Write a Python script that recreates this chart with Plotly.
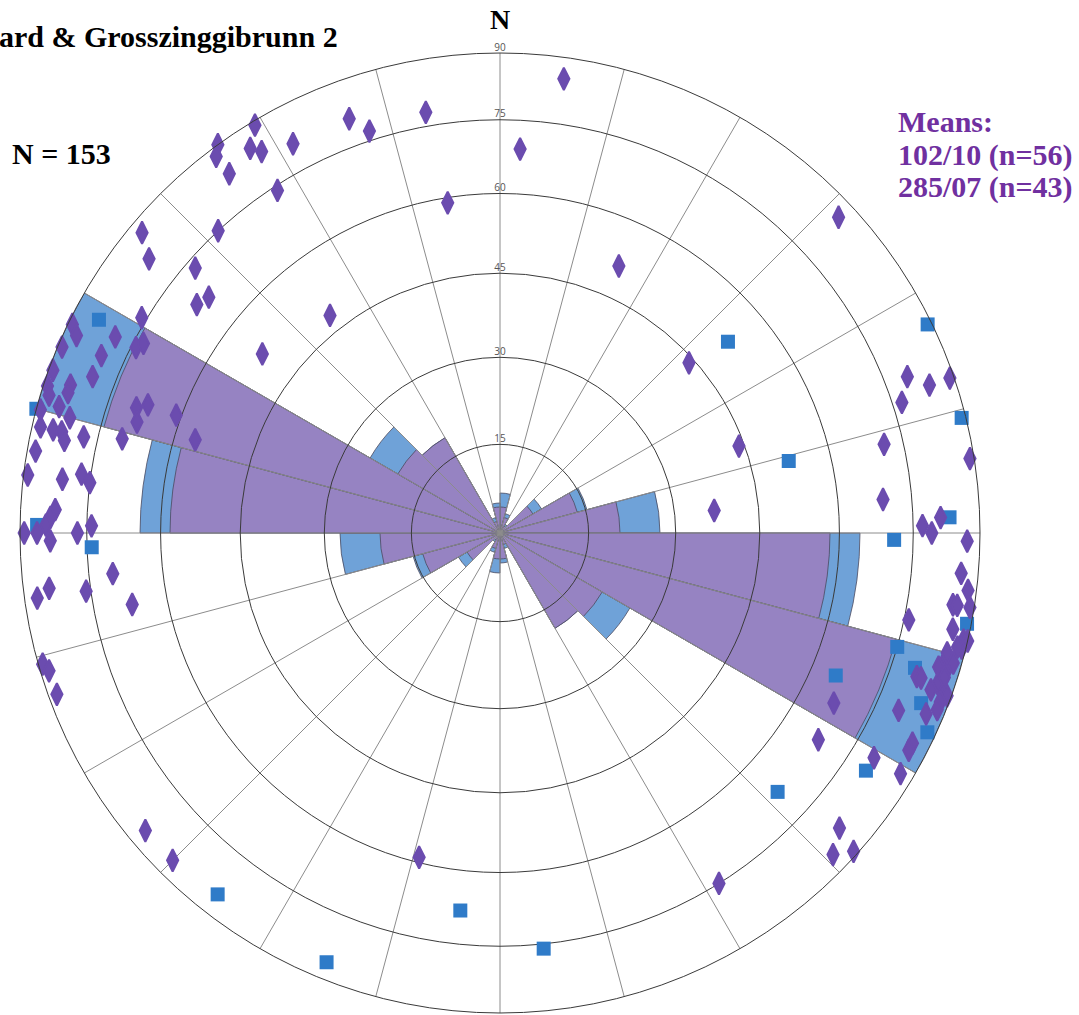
import math
import plotly.graph_objects as go

W, H = 1079, 1015
CX, CY, R = 500, 533, 480   # plot centre / radius in pixels (layout only)

# ---------------- rose diagram (15 degree bins) ----------------
rose_bins = [7.5, 22.5, 37.5, 52.5, 67.5, 82.5, 97.5, 112.5, 127.5, 142.5, 157.5, 172.5,
             187.5, 202.5, 217.5, 232.5, 247.5, 262.5, 277.5, 292.5, 307.5, 322.5, 337.5, 352.5]
rose_all = [2.0, 1.0, 0.5, 2.4, 4.5, 8.0, 18.0, 24.0, 7.5, 5.5, 0.8, 1.5,
            2.0, 1.0, 0.5, 2.4, 4.5, 8.0, 18.0, 24.0, 7.5, 5.5, 0.8, 1.5]
rose_diamond = [1.3, 0.8, 0.4, 1.9, 4.0, 6.0, 16.5, 20.5, 5.9, 5.5, 0.6, 1.3,
                1.3, 0.8, 0.4, 1.9, 4.0, 6.0, 16.5, 20.5, 5.9, 5.5, 0.6, 1.3]
rose_max = 24

# ---------------- lineations (trend / plunge) ----------------
diamond_trend = [8, 3, 350, 340, 342, 351, 24, 329, 324, 323, 323, 327, 328, 332, 327, 310, 308, 317,
                 311, 307, 309, 307, 322,
                 301, 296, 295, 293, 297, 294, 297, 298, 291, 290, 289, 288, 288, 287, 286, 285, 289,
                 290, 287, 290, 285, 283, 283, 283, 282, 283, 284, 287, 280, 277, 277, 278, 277, 273,
                 272, 271, 270, 270, 269, 270, 271, 264, 262, 263, 262, 259, 254, 253, 250, 230, 225, 194,
                 47, 48, 70, 84, 77, 85, 72, 69, 71, 71, 81, 89, 90, 88, 91, 95, 97, 99, 99, 99, 102,
                 102, 103, 104, 104, 106, 107, 107, 106, 109, 109, 109, 110, 110, 110, 111, 112, 114,
                 113, 117, 117, 118, 123, 121, 121, 131, 134, 132, 148, 103, 108, 105]
diamond_plunge = [5, 21, 12, 9, 13, 31, 39, 1, 0, 2, 7, 5, 7, 9, 16, 3, 8, 15,
                  17, 22, 23, 38, 42,
                  14, 1, 3, 1, 11, 10, 16, 17, 10, 1, 6, 6, 1, 2, 5, 1, 21,
                  23, 22, 29, 8, 2, 5, 7, 8, 12, 20, 34, 2, 1, 9, 13, 15, 8,
                  7, 6, 1, 4, 7, 13, 16, 20, 3, 6, 14, 23, 1, 2, 2, 4, 4, 31,
                  4, 46, 46, 53, 19, 21, 13, 10, 6, 1, 1, 13, 11, 9, 3, 4, 2, 5, 4, 1, 14,
                  4, 1, 1, 2, 4, 5, 3, 2, 9, 8, 4, 5, 2, 1, 2, 2, 10,
                  4, 23, 4, 4, 22, 10, 3, 7, 4, 1, 15, 0, 3, 4]

square_trend = [298, 285, 271, 268, 218, 202, 186, 174, 133, 123, 115, 112, 108, 106, 101, 113,
                91, 88, 76, 64, 76, 50]
square_plunge = [6, 0, 4, 16, 5, 4, 22, 14, 22, 10, 2, 6, 10, 15, 1, 25,
                 19, 7, 1, 1, 38, 38]

ring_labels = [15, 30, 45, 60, 75, 90]


def equal_area(angle_from_centre):
    """Schmidt (equal-area) radius, normalised so that 90 degrees -> 1."""
    return math.sqrt(2) * math.sin(math.radians(angle_from_centre) / 2)


def plunge_to_r(p):
    return equal_area(90 - p)


ring_r = [equal_area(v) for v in ring_labels]

dom_x = [(CX - R) / W, (CX + R) / W]
dom_y = [(H - CY - R) / H, (H - CY + R) / H]

fig = go.Figure()

fig.add_trace(go.Barpolar(
    r=rose_all, theta=rose_bins, width=[15] * len(rose_bins), subplot="polar",
    marker=dict(color="#6FA2D8", line=dict(color="#4a4a60", width=0.8)),
    hoverinfo="skip"))
fig.add_trace(go.Barpolar(
    r=rose_diamond, theta=rose_bins, width=[15] * len(rose_bins), subplot="polar",
    marker=dict(color="#9683C2", line=dict(color="#4a4a60", width=0.8)),
    hoverinfo="skip"))

fig.add_trace(go.Scatterpolar(
    r=[plunge_to_r(p) for p in square_plunge], theta=square_trend, subplot="polar2",
    mode="markers", cliponaxis=False,
    marker=dict(symbol="square", size=14, color="#2F7BC8", line=dict(width=0))))
fig.add_trace(go.Scatterpolar(
    r=[plunge_to_r(p) for p in diamond_plunge], theta=diamond_trend, subplot="polar2",
    mode="markers", cliponaxis=False,
    marker=dict(symbol="diamond-tall", size=16, color="#6B4CAF",
                line=dict(width=2, color="#6B4CAF"))))
fig.add_trace(go.Scatterpolar(
    r=ring_r, theta=[0] * len(ring_r), subplot="polar2", mode="text", cliponaxis=False,
    text=[str(v) for v in ring_labels], textposition="top center",
    textfont=dict(family="Open Sans", size=10, color="#555555"), hoverinfo="skip"))

fig.update_layout(
    width=W, height=H, margin=dict(l=0, r=0, t=0, b=0),
    paper_bgcolor="white", showlegend=False,
    polar=dict(
        domain=dict(x=dom_x, y=dom_y), bgcolor="white", barmode="overlay",
        radialaxis=dict(range=[0, rose_max], showgrid=False, showline=False,
                        showticklabels=False, ticks=""),
        angularaxis=dict(rotation=90, direction="clockwise", showgrid=False,
                         showline=False, showticklabels=False, ticks=""),
    ),
    polar2=dict(
        domain=dict(x=dom_x, y=dom_y), bgcolor="rgba(0,0,0,0)",
        radialaxis=dict(range=[0, 1], tickmode="array", tickvals=ring_r,
                        showticklabels=False, ticks="", showline=False,
                        gridcolor="#3a3a3a", gridwidth=1),
        angularaxis=dict(rotation=90, direction="clockwise", tickmode="linear",
                         tick0=0, dtick=15, showticklabels=False, ticks="",
                         gridcolor="#8c8c8c", gridwidth=1,
                         showline=True, linecolor="#3a3a3a", linewidth=1),
    ),
)

serif = "Liberation Serif"
def note(text, x, y, size=30, color="black", xanchor="left"):
    fig.add_annotation(text=text, x=x / W, y=1 - y / H, xref="paper", yref="paper",
                       xanchor=xanchor, yanchor="middle", showarrow=False,
                       font=dict(family=serif, size=size, color=color, weight="bold"))

note("ard &amp; Grosszinggibrunn 2", -3, 37)
note("N = 153", 10, 153)
note("N", 500, 20, size=28, xanchor="center")
purple = "#7030A0"
note("Means:", 896, 122, color=purple)
note("102/10 (n=56)", 896, 155, color=purple)
note("285/07 (n=43)", 896, 187, color=purple)

fig.write_html("out.html", config={"displayModeBar": False},
               post_script="document.body.style.margin='0';document.body.style.overflow='hidden';")
